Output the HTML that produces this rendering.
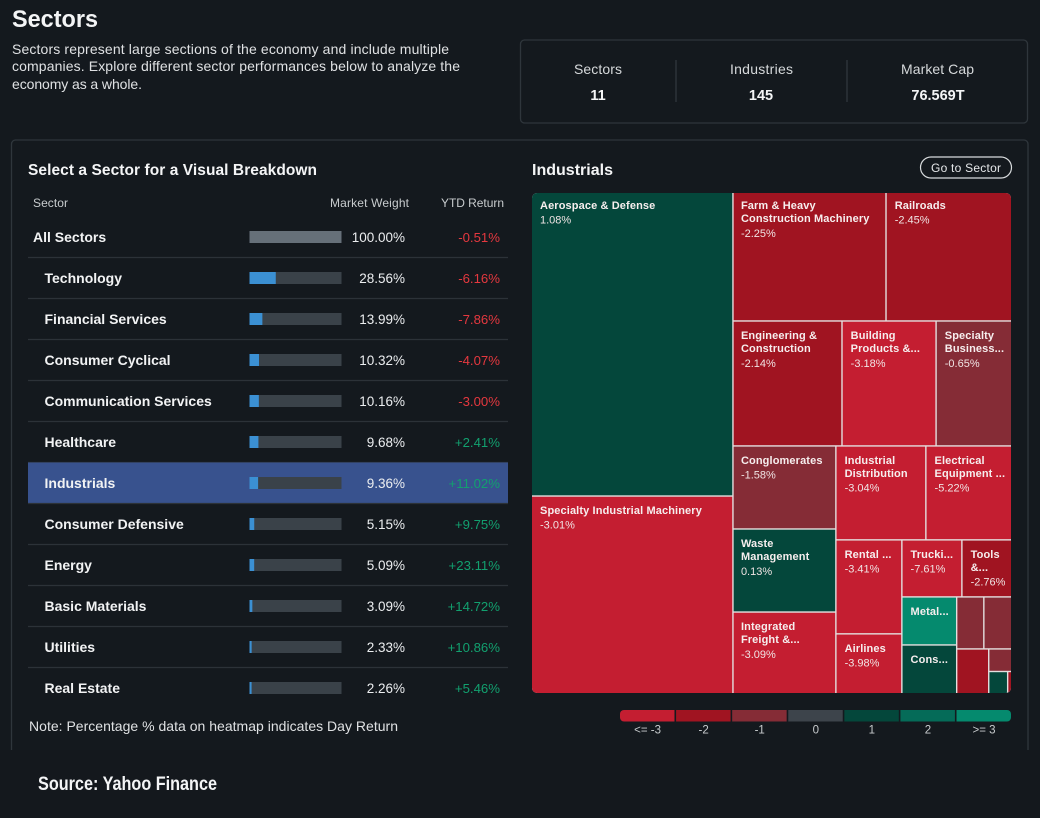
<!DOCTYPE html>
<html lang="en">
<head>
<meta charset="utf-8">
<title>Sectors</title>
<style>
html,body{margin:0;padding:0;background:#14191e;}
svg{display:block;font-family:"Liberation Sans",sans-serif;}
text{white-space:pre;}
</style>
</head>
<body>
<svg id="page" xmlns="http://www.w3.org/2000/svg" width="1040" height="818" viewBox="0 0 1040 818">
  <rect x="0" y="0" width="1040" height="818" fill="#14191e"/>
  <text x="12" y="27" font-size="24" font-weight="700" fill="#f4f5f6" textLength="86" lengthAdjust="spacingAndGlyphs">Sectors</text>
  <text x="12" y="54" font-size="14" fill="#dfe1e3" textLength="437">Sectors represent large sections of the economy and include multiple</text>
  <text x="12" y="71" font-size="14" fill="#dfe1e3" textLength="448">companies. Explore different sector performances below to analyze the</text>
  <text x="12" y="89" font-size="14" fill="#dfe1e3" textLength="130">economy as a whole.</text>

  <rect x="520.5" y="40" width="507" height="83" rx="4" fill="none" stroke="#2f363c" stroke-width="1.3"/>
  <line x1="676" y1="60" x2="676" y2="102" stroke="#2f363c" stroke-width="1.3"/>
  <line x1="847" y1="60" x2="847" y2="102" stroke="#2f363c" stroke-width="1.3"/>
  <text x="574" y="74" font-size="14" fill="#d6d9db" textLength="48">Sectors</text>
  <text x="598" y="100" font-size="14.5" font-weight="700" fill="#f4f5f6" text-anchor="middle">11</text>
  <text x="730" y="74" font-size="14" fill="#d6d9db" textLength="63">Industries</text>
  <text x="761" y="100" font-size="14.5" font-weight="700" fill="#f4f5f6" text-anchor="middle">145</text>
  <text x="901" y="74" font-size="14" fill="#d6d9db" textLength="73">Market Cap</text>
  <text x="938" y="100" font-size="14.5" font-weight="700" fill="#f4f5f6" text-anchor="middle">76.569T</text>

  <path d="M11.5 750V144a4 4 0 0 1 4-4H1024a4 4 0 0 1 4 4V750" fill="none" stroke="#2f363c" stroke-width="1.3"/>
  <text x="28" y="175" font-size="15.5" font-weight="700" fill="#f4f5f6" textLength="289">Select a Sector for a Visual Breakdown</text>
  <text x="33" y="207" font-size="12" fill="#c8ccce" textLength="35">Sector</text>
  <text x="330" y="207" font-size="12" fill="#c8ccce" textLength="79">Market Weight</text>
  <text x="441" y="207" font-size="12" fill="#c8ccce" textLength="63">YTD Return</text>
  <g id="rows"></g>
  <text x="29" y="731" font-size="14" fill="#dfe1e3" textLength="369">Note: Percentage % data on heatmap indicates Day Return</text>

  <text x="532" y="175" font-size="16" font-weight="700" fill="#f4f5f6" textLength="81">Industrials</text>
  <rect x="920.5" y="157" width="91" height="21" rx="10.5" fill="#14191e" stroke="#d8dbdd" stroke-width="1.2"/>
  <text x="931" y="172" font-size="12" fill="#e6e8ea" textLength="70">Go to Sector</text>

  <defs>
    <clipPath id="map-clip"><rect x="532" y="193" width="479" height="500" rx="5"/></clipPath>
    <clipPath id="legend-clip"><rect x="620" y="710" width="391" height="11.5" rx="4"/></clipPath>
  </defs>
  <g id="map" clip-path="url(#map-clip)"></g>
  <g id="map-labels"></g>
  <g id="legend"></g>

  <rect x="0" y="750" width="1040" height="68" fill="#14181d"/>
  <text x="38" y="790" font-size="19" font-weight="700" fill="#f4f5f6" textLength="179" lengthAdjust="spacingAndGlyphs">Source: Yahoo Finance</text>
</svg>
<script>
var NS = 'http://www.w3.org/2000/svg';

/* Sector table data */
var sectorNames = ['All Sectors','Technology','Financial Services','Consumer Cyclical','Communication Services','Healthcare','Industrials','Consumer Defensive','Energy','Basic Materials','Utilities','Real Estate'];
var sectorWeights = [100.00,28.56,13.99,10.32,10.16,9.68,9.36,5.15,5.09,3.09,2.33,2.26];
var sectorYtd = [-0.51,-6.16,-7.86,-4.07,-3.00,2.41,11.02,9.75,23.11,14.72,10.86,5.46];
var selectedSector = 'Industrials';

/* Treemap data: day return and relative size */
var industryLabels = [['Aerospace & Defense'],['Specialty Industrial Machinery'],['Farm & Heavy','Construction Machinery'],['Railroads'],['Engineering &','Construction'],['Building','Products &...'],['Specialty','Business...'],['Conglomerates'],['Waste','Management'],['Integrated','Freight &...'],['Industrial','Distribution'],['Electrical','Equipment ...'],['Rental ...'],['Airlines'],['Trucki...'],['Tools','&...'],['Metal...'],['Cons...'],[],[],[],[],[],[]];
var industryReturns = [1.08,-3.01,-2.25,-2.45,-2.14,-3.18,-0.65,-1.58,0.13,-3.09,-3.04,-5.22,-3.41,-3.98,-7.61,-2.76,3.2,0.5,-0.8,-0.9,-2.4,-0.9,0.8,-2.5];
var industrySizes = [25.43,16.53,8.18,6.68,5.69,4.91,3.91,3.57,3.57,3.48,3.53,3.34,2.59,1.63,1.43,1.17,1.10,1.10,0.59,0.59,0.59,0.21,0.17,0.03];
/* Nesting of industries (indices only); split direction alternates by depth */
var industryNesting = [[0,1],[[2,3],[4,5,6],[[7,8,9],[[10,11],[[12,13],[[14,15],[[16,17],[[18,19],[20,[21,[22,23]]]]]]]]]]];

/* Legend data */
var legendLabels = ['<= -3','-2','-1','0','1','2','>= 3'];
var legendColors = ['#c41e31','#a01421','#852c36','#3d444b','#04473b','#056b58','#058a6e'];

/* Axis functions */
var weightScale = function (v) { return v / 100 * 92; };
var rowCenter = function (i) { return 237 + i * 41; };
var mapBox = { x: 532, y: 193, w: 479, h: 500 };

function returnColor(v) {
  if (v <= -3) return legendColors[0];
  if (v <= -2) return legendColors[1];
  if (v < 0) return legendColors[2];
  if (v === 0) return legendColors[3];
  if (v < 2) return legendColors[4];
  if (v < 3) return legendColors[5];
  return legendColors[6];
}
function make(tag, attrs) {
  var el = document.createElementNS(NS, tag);
  for (var k in attrs) el.setAttribute(k, attrs[k]);
  return el;
}

/* Sector rows */
var rowsG = document.getElementById('rows');
sectorNames.forEach(function (name, i) {
  var cy = rowCenter(i);
  var g = make('g', {});
  
  
  if (name === selectedSector) {
    var hl = make('rect', { x: 28, y: cy - 20.5, width: 480, height: 41, fill: '#38528e' });
    
    
    g.appendChild(hl);
  }
  if (i < sectorNames.length - 1) {
    var sep = make('line', { x1: 28, x2: 508, y1: cy + 20.5, y2: cy + 20.5, stroke: '#2c3238', 'stroke-width': 1.3 });
    
    
    g.appendChild(sep);
  }
  var label = make('text', { x: i === 0 ? 33 : 44.5, y: cy + 5, 'font-size': 14, 'font-weight': 700, fill: '#f2f3f4' });
  
  
  label.textContent = name;
  g.appendChild(label);
  var track = make('rect', { x: 249.5, y: cy - 6, width: weightScale(100), height: 12, fill: i === 0 ? '#667079' : '#3a4249' });
  
  
  g.appendChild(track);
  if (i > 0) {
    var bar = make('rect', { x: 249.5, y: cy - 6, width: weightScale(sectorWeights[i]), height: 12, fill: '#3b90d3' });
    
    
    g.appendChild(bar);
  }
  var w = make('text', { x: 405, y: cy + 5, 'font-size': 13.5, fill: '#eceef0', 'text-anchor': 'end' });
  
  
  w.textContent = sectorWeights[i].toFixed(2) + '%';
  g.appendChild(w);
  var y = sectorYtd[i];
  var r = make('text', { x: 500, y: cy + 5, 'font-size': 13.2, fill: y < 0 ? '#e5383f' : '#12a06f', 'text-anchor': 'end' });
  
  
  r.textContent = (y < 0 ? '' : '+') + y.toFixed(2) + '%';
  g.appendChild(r);
  rowsG.appendChild(g);
});

/* Treemap layout */
var mapG = document.getElementById('map');
var labelG = document.getElementById('map-labels');
function nodeSize(n) {
  if (typeof n === 'number') return industrySizes[n];
  return n.reduce(function (s, c) { return s + nodeSize(c); }, 0);
}
function drawLeaf(i, x, y, w, h) {
  var gap = 0.7, eps = 0.5;
  var x0 = x <= mapBox.x + eps ? x : x + gap;
  var y0 = y <= mapBox.y + eps ? y : y + gap;
  var x1 = x + w >= mapBox.x + mapBox.w - eps ? x + w : x + w - gap;
  var y1 = y + h >= mapBox.y + mapBox.h - eps ? y + h : y + h - gap;
  var cell = make('rect', { x: x0, y: y0, width: Math.max(0, x1 - x0), height: Math.max(0, y1 - y0), fill: returnColor(industryReturns[i]) });
  
  
  mapG.appendChild(cell);
  var lines = industryLabels[i];
  var tx = x > mapBox.x + 202 ? x + 8.7 : x + 8;
  var ty = y <= mapBox.y + eps ? y + 16 : y + 18;
  lines.forEach(function (line) {
    var t = make('text', { x: tx, y: ty, 'font-size': 11, 'font-weight': 700, fill: '#f6eeee', 'letter-spacing': 0.12 });
    
    
    t.textContent = line;
    labelG.appendChild(t);
    ty += 13.2;
  });
  if (lines.length && h > 50) {
    var p = make('text', { x: tx, y: ty + 1.4, 'font-size': 11, fill: '#f0e4e4' });
    
    
    p.textContent = industryReturns[i].toFixed(2) + '%';
    labelG.appendChild(p);
  }
}
function layout(n, x, y, w, h, horizontal) {
  if (typeof n === 'number') { drawLeaf(n, x, y, w, h); return; }
  var total = nodeSize(n), pos = 0;
  n.forEach(function (c) {
    var f = nodeSize(c) / total;
    if (horizontal) layout(c, x + pos * w, y, f * w, h, false);
    else layout(c, x, y + pos * h, w, f * h, true);
    pos += f;
  });
}
var mapBack = make('rect', { x: mapBox.x, y: mapBox.y, width: mapBox.w, height: mapBox.h, fill: '#e4dfdf' });


mapG.appendChild(mapBack);
layout(industryNesting, mapBox.x, mapBox.y, mapBox.w, mapBox.h, true);

/* Legend */
var legendG = document.getElementById('legend');
var legendBars = make('g', { 'clip-path': 'url(#legend-clip)' });


legendG.appendChild(legendBars);
var legendGap = 1.6;
var legendStep = (391 + legendGap) / legendLabels.length;
legendLabels.forEach(function (lab, i) {
  var seg = make('rect', { x: 620 + i * legendStep, y: 710, width: legendStep - legendGap, height: 11.5, fill: legendColors[i] });
  
  
  legendBars.appendChild(seg);
  var t = make('text', { x: 620 + (i + 0.5) * legendStep - 0.5, y: 733.5, 'font-size': 11.5, fill: '#c8ccce', 'text-anchor': 'middle' });
  
  
  t.textContent = lab;
  legendG.appendChild(t);
});
</script>
</body>
</html>
